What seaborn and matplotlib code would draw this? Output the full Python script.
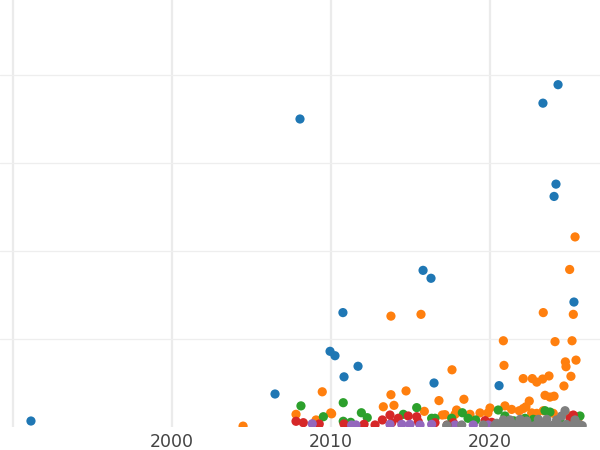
import numpy as np
import pandas as pd
import matplotlib.pyplot as plt
import seaborn as sns

# values (x = year, y = value, gridline every 100)
blue_x = [1991.13, 2008.05, 2023.33, 2024.28, 2024.15, 2024.03, 2015.79, 2016.29, 2025.28,
          2010.75, 2009.94, 2010.25, 2011.70, 2010.82, 2016.48, 2020.57, 2006.48]
blue_y = [6.8, 350, 368, 389, 276, 262, 178, 169, 142, 130, 86, 81, 69, 57, 50, 47, 37.5]

orange_x = [2004.47, 2025.35, 2025.01, 2025.24, 2023.35, 2013.77, 2015.66, 2020.84, 2024.09,
            2025.16, 2020.88, 2024.74, 2024.78, 2025.41, 2017.61, 2022.09, 2022.66, 2022.94,
            2023.31, 2023.71, 2025.09, 2024.65, 2009.45, 2013.77, 2014.72, 2016.79, 2018.36,
            2023.46, 2023.77, 2024.03, 2022.47, 2022.26, 2007.80, 2009.06, 2009.98, 2010.04,
            2013.29, 2013.96, 2015.87, 2017.17, 2017.80, 2018.74, 2019.37, 2019.87, 2020.00,
            2020.94, 2021.36, 2021.84, 2022.09, 2022.62, 2022.94, 2023.35, 2023.98, 2025.03,
            2025.52, 2017.90, 2017.00]
orange_y = [1, 216, 179, 128, 130, 126, 128, 98, 97, 98, 70, 74, 68.5, 76, 65, 55, 55, 51,
            54.5, 58, 57.6, 46.6, 40, 36.7, 41, 30, 31.5, 36, 34, 35, 29.5, 23, 14.4, 8, 16, 15,
            23, 24.6, 17.8, 14, 14.4, 14.4, 16, 16, 21.6, 24, 20, 18.5, 21, 16, 15.5, 18.5, 15.5,
            12.5, 8.7, 19.3, 13.6]

green_x = [2008.11, 2010.77, 2009.52, 2010.77, 2011.24, 2011.91, 2012.28, 2015.39, 2014.55,
           2016.33, 2016.54, 2017.59, 2018.26, 2018.62, 2020.52, 2020.94, 2022.20, 2022.72,
           2023.46, 2023.77, 2025.66, 2019.10, 2021.50, 2024.40]
green_y = [24, 27.6, 11.7, 6.5, 5.3, 16.2, 10.6, 22, 14.4, 9.9, 9.9, 9.9, 16.2, 9.9, 19.3,
           12.5, 9.9, 8.7, 18.5, 17, 12.5, 8, 7, 9]

red_x = [2007.80, 2008.26, 2009.26, 2012.08, 2012.77, 2013.23, 2013.71, 2013.82, 2014.23,
         2014.86, 2015.39, 2015.49, 2016.54, 2017.69, 2019.69, 2020.11, 2021.89, 2025.03,
         2025.24, 2010.82]
red_y = [6.5, 4.9, 3.4, 3.1, 2.3, 8, 13.6, 4.9, 9.9, 12.5, 11.7, 6, 4.9, 4.9, 7.2, 5.3, 4.5,
         9.9, 13.6, 3.4]

purple_x = [2008.82, 2011.30, 2011.57, 2013.71, 2014.45, 2014.97, 2015.60, 2016.33, 2017.80,
            2018.95, 2019.89, 2020.21, 2020.94]
purple_y = [3.7, 2.3, 2.3, 3, 3, 3, 2.3, 3, 2.3, 2.3, 2.3, 1.1, 2.3]

brown_x = [2017.30]
brown_y = [2.3]

gray_x = [2017.28, 2018.22, 2019.58, 2020.42, 2020.84, 2021.26, 2021.89, 2022.31, 2023.04,
          2023.57, 2024.19, 2024.50, 2024.72, 2025.35, 2025.66, 2020.30, 2020.70, 2021.10,
          2021.50, 2021.90, 2022.40, 2022.80, 2023.20, 2023.60, 2024.00, 2024.40, 2024.80,
          2025.20, 2025.50, 2025.80]
gray_y = [1.5, 2.3, 2.3, 4.2, 8, 8, 8.7, 6.8, 8.7, 8.7, 8, 12.5, 18.5, 8, 2.6, 1.5, 2.5, 1.5,
          3, 2, 2.5, 1.5, 3, 2, 2.5, 1.5, 3, 2, 2.5, 1.5]

groups = {
    "A": (blue_x, blue_y),
    "B": (orange_x, orange_y),
    "C": (green_x, green_y),
    "D": (red_x, red_y),
    "E": (purple_x, purple_y),
    "F": (brown_x, brown_y),
    "H": (gray_x, gray_y),
}
palette = {"A": "#1f77b4", "B": "#ff7f0e", "C": "#2ca02c", "D": "#d62728",
           "E": "#9467bd", "F": "#8c564b", "H": "#7f7f7f"}

df = pd.concat([pd.DataFrame({"year": xs, "value": ys, "group": g})
                for g, (xs, ys) in groups.items()], ignore_index=True)

sns.set_theme(style="whitegrid")
fig = plt.figure(figsize=(6, 4.5), dpi=100)
ax = fig.add_axes([0, 23 / 450, 1, 427 / 450])

sns.scatterplot(data=df, x="year", y="value", hue="group", palette=palette,
                s=44, linewidth=0, alpha=1, legend=False, ax=ax)

ax.set_xlim(1990 - 13 / 15.9, 2020 + 110 / 15.9)
ax.set_ylim(0, 427 / 88 * 100)
ax.set_xticks([1990, 2000, 2010, 2020])
ax.set_xticklabels(["", "2000", "2010", "2020"])
ax.set_yticks([100, 200, 300, 400])
ax.set_yticklabels([])
ax.tick_params(axis="x", length=0, pad=4, labelsize=12.5, labelcolor="#444444")
ax.tick_params(axis="y", length=0)
ax.xaxis.grid(True, color="#ebebeb", linewidth=1.6)
ax.yaxis.grid(True, color="#eeeeee", linewidth=0.9)
ax.set_xlabel("")
ax.set_ylabel("")
for s in ax.spines.values():
    s.set_visible(False)

fig.savefig("out.png", dpi=100)
